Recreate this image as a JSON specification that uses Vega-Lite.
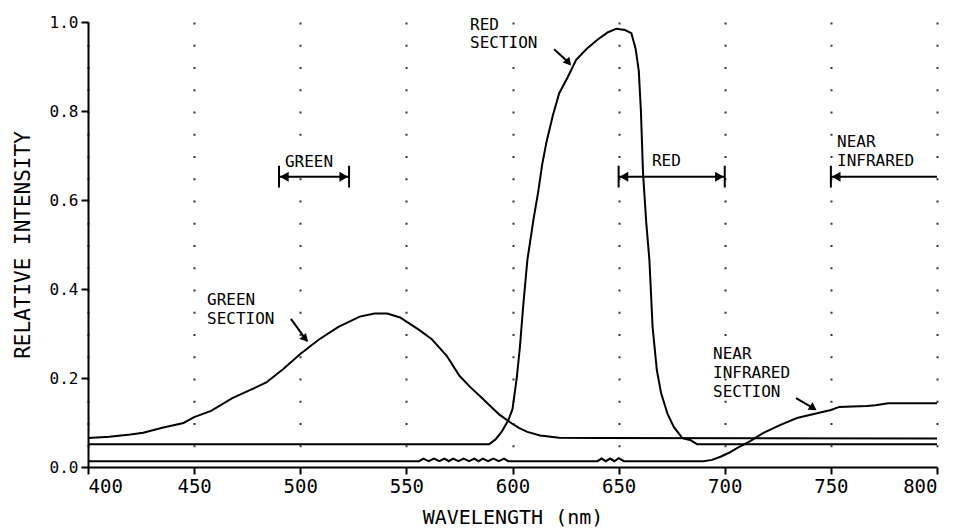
{
  "$schema": "https://vega.github.io/schema/vega-lite/v6.json",
  "width": 849,
  "height": 445,
  "autosize": {"type": "none"},
  "padding": {"left": 88, "top": 22, "right": 23, "bottom": 61},
  "background": "white",
  "config": {
    "view": {"stroke": null},
    "font": "DejaVu Sans Mono",
    "axis": {
      "domainColor": "black", "domainWidth": 2,
      "tickColor": "black", "tickWidth": 2, "tickSize": 7,
      "labelColor": "black", "labelFont": "DejaVu Sans Mono",
      "titleColor": "black", "titleFont": "DejaVu Sans Mono", "titleFontWeight": "normal"
    }
  },
  "datasets": {
    "curves": [
      {"series": "green", "wl": 400, "value": 0.065},
      {"series": "green", "wl": 410, "value": 0.068},
      {"series": "green", "wl": 420, "value": 0.073},
      {"series": "green", "wl": 426, "value": 0.077},
      {"series": "green", "wl": 435, "value": 0.088},
      {"series": "green", "wl": 445, "value": 0.099},
      {"series": "green", "wl": 450, "value": 0.112},
      {"series": "green", "wl": 458, "value": 0.126},
      {"series": "green", "wl": 468, "value": 0.155},
      {"series": "green", "wl": 476, "value": 0.172},
      {"series": "green", "wl": 484, "value": 0.19},
      {"series": "green", "wl": 492, "value": 0.22},
      {"series": "green", "wl": 500, "value": 0.254},
      {"series": "green", "wl": 509, "value": 0.287},
      {"series": "green", "wl": 518, "value": 0.315},
      {"series": "green", "wl": 528, "value": 0.338},
      {"series": "green", "wl": 535, "value": 0.345},
      {"series": "green", "wl": 541, "value": 0.345},
      {"series": "green", "wl": 547, "value": 0.336},
      {"series": "green", "wl": 556, "value": 0.308},
      {"series": "green", "wl": 562, "value": 0.287},
      {"series": "green", "wl": 569, "value": 0.25},
      {"series": "green", "wl": 575, "value": 0.205},
      {"series": "green", "wl": 580, "value": 0.18},
      {"series": "green", "wl": 585, "value": 0.158},
      {"series": "green", "wl": 590, "value": 0.135},
      {"series": "green", "wl": 594, "value": 0.117},
      {"series": "green", "wl": 599, "value": 0.1},
      {"series": "green", "wl": 603, "value": 0.088},
      {"series": "green", "wl": 607, "value": 0.079},
      {"series": "green", "wl": 613, "value": 0.071},
      {"series": "green", "wl": 622, "value": 0.066},
      {"series": "green", "wl": 640, "value": 0.065},
      {"series": "green", "wl": 800, "value": 0.064},
      {"series": "red", "wl": 400, "value": 0.051},
      {"series": "red", "wl": 589, "value": 0.051},
      {"series": "red", "wl": 592, "value": 0.062},
      {"series": "red", "wl": 595, "value": 0.08},
      {"series": "red", "wl": 598, "value": 0.105},
      {"series": "red", "wl": 600, "value": 0.13},
      {"series": "red", "wl": 602, "value": 0.2},
      {"series": "red", "wl": 603.5, "value": 0.27},
      {"series": "red", "wl": 605, "value": 0.36},
      {"series": "red", "wl": 607, "value": 0.465},
      {"series": "red", "wl": 610, "value": 0.56},
      {"series": "red", "wl": 612, "value": 0.615},
      {"series": "red", "wl": 614, "value": 0.68},
      {"series": "red", "wl": 616, "value": 0.73},
      {"series": "red", "wl": 619, "value": 0.79},
      {"series": "red", "wl": 622, "value": 0.84},
      {"series": "red", "wl": 626, "value": 0.876},
      {"series": "red", "wl": 630, "value": 0.915},
      {"series": "red", "wl": 635, "value": 0.94},
      {"series": "red", "wl": 640, "value": 0.96},
      {"series": "red", "wl": 645, "value": 0.977},
      {"series": "red", "wl": 649, "value": 0.985},
      {"series": "red", "wl": 653, "value": 0.982},
      {"series": "red", "wl": 656, "value": 0.975},
      {"series": "red", "wl": 658, "value": 0.94},
      {"series": "red", "wl": 659.5, "value": 0.89},
      {"series": "red", "wl": 660.5, "value": 0.8},
      {"series": "red", "wl": 661.5, "value": 0.66},
      {"series": "red", "wl": 663, "value": 0.55},
      {"series": "red", "wl": 664.5, "value": 0.465},
      {"series": "red", "wl": 666, "value": 0.315},
      {"series": "red", "wl": 668, "value": 0.218},
      {"series": "red", "wl": 670, "value": 0.166},
      {"series": "red", "wl": 673, "value": 0.12},
      {"series": "red", "wl": 676, "value": 0.09},
      {"series": "red", "wl": 680, "value": 0.065},
      {"series": "red", "wl": 684, "value": 0.06},
      {"series": "red", "wl": 687, "value": 0.051},
      {"series": "red", "wl": 800, "value": 0.051},
      {"series": "nir", "wl": 400, "value": 0.013},
      {"series": "nir", "wl": 556, "value": 0.013},
      {"series": "nir", "wl": 558, "value": 0.019},
      {"series": "nir", "wl": 560.5, "value": 0.013},
      {"series": "nir", "wl": 563, "value": 0.019},
      {"series": "nir", "wl": 565.5, "value": 0.013},
      {"series": "nir", "wl": 568, "value": 0.019},
      {"series": "nir", "wl": 570, "value": 0.013},
      {"series": "nir", "wl": 572, "value": 0.019},
      {"series": "nir", "wl": 574.5, "value": 0.013},
      {"series": "nir", "wl": 577, "value": 0.019},
      {"series": "nir", "wl": 579.5, "value": 0.013},
      {"series": "nir", "wl": 582, "value": 0.019},
      {"series": "nir", "wl": 584, "value": 0.013},
      {"series": "nir", "wl": 586, "value": 0.019},
      {"series": "nir", "wl": 588.5, "value": 0.013},
      {"series": "nir", "wl": 591, "value": 0.019},
      {"series": "nir", "wl": 593.5, "value": 0.013},
      {"series": "nir", "wl": 596, "value": 0.019},
      {"series": "nir", "wl": 598, "value": 0.013},
      {"series": "nir", "wl": 640, "value": 0.013},
      {"series": "nir", "wl": 642, "value": 0.019},
      {"series": "nir", "wl": 644, "value": 0.013},
      {"series": "nir", "wl": 646, "value": 0.019},
      {"series": "nir", "wl": 648, "value": 0.013},
      {"series": "nir", "wl": 650, "value": 0.02},
      {"series": "nir", "wl": 652.5, "value": 0.013},
      {"series": "nir", "wl": 690, "value": 0.013},
      {"series": "nir", "wl": 694, "value": 0.016},
      {"series": "nir", "wl": 698, "value": 0.023},
      {"series": "nir", "wl": 702, "value": 0.032},
      {"series": "nir", "wl": 706, "value": 0.043},
      {"series": "nir", "wl": 712, "value": 0.058},
      {"series": "nir", "wl": 718, "value": 0.076},
      {"series": "nir", "wl": 726, "value": 0.094},
      {"series": "nir", "wl": 734, "value": 0.11},
      {"series": "nir", "wl": 742, "value": 0.119},
      {"series": "nir", "wl": 750, "value": 0.128},
      {"series": "nir", "wl": 754, "value": 0.135},
      {"series": "nir", "wl": 760, "value": 0.136},
      {"series": "nir", "wl": 767, "value": 0.137},
      {"series": "nir", "wl": 771, "value": 0.139},
      {"series": "nir", "wl": 777, "value": 0.143},
      {"series": "nir", "wl": 800, "value": 0.143}
    ],
    "ranges": [
      {"name": "GREEN", "wl": 490, "wl2": 523, "value": 0.652},
      {"name": "RED", "wl": 650, "wl2": 700, "value": 0.652},
      {"name": "NIR", "wl": 750, "wl2": 800, "value": 0.652}
    ],
    "bars": [
      {"wl": 490, "lo": 0.628, "hi": 0.677},
      {"wl": 523, "lo": 0.628, "hi": 0.677},
      {"wl": 650, "lo": 0.628, "hi": 0.677},
      {"wl": 700, "lo": 0.628, "hi": 0.677},
      {"wl": 750, "lo": 0.628, "hi": 0.677}
    ],
    "heads": [
      {"dir": "left", "wl": 492.5, "value": 0.652},
      {"dir": "right", "wl": 520.5, "value": 0.652},
      {"dir": "left", "wl": 652.5, "value": 0.652},
      {"dir": "right", "wl": 697.5, "value": 0.652},
      {"dir": "left", "wl": 752.5, "value": 0.652}
    ],
    "pointers": [
      {"name": "g", "wl": 495.6, "value": 0.333, "wl2": 503.2, "value2": 0.283, "hx": 502, "hy": 0.29},
      {"name": "r", "wl": 619.6, "value": 0.939, "wl2": 627.1, "value2": 0.906, "hx": 626, "hy": 0.911},
      {"name": "n", "wl": 733.6, "value": 0.155, "wl2": 742.5, "value2": 0.13, "hx": 741.2, "hy": 0.134}
    ],
    "labels": [
      {"text": "GREEN", "wl": 492.8, "value": 0.675},
      {"text": "RED", "wl": 665.7, "value": 0.677},
      {"text": "NEAR\nINFRARED", "wl": 752.9, "value": 0.718},
      {"text": "GREEN\nSECTION", "wl": 456.1, "value": 0.363},
      {"text": "RED\nSECTION", "wl": 580, "value": 0.983},
      {"text": "NEAR\nINFRARED\nSECTION", "wl": 694.5, "value": 0.242}
    ]
  },
  "layer": [
    {
      "data": {"name": "curves"},
      "mark": {"type": "line", "color": "black", "strokeWidth": 2},
      "encoding": {
        "x": {
          "field": "wl", "type": "quantitative",
          "scale": {"domain": [400, 800], "nice": false, "zero": false},
          "axis": {
            "title": "WAVELENGTH (nm)", "values": [400, 450, 500, 550, 600, 650, 700, 750, 800],
            "labelFontSize": 19, "titleFontSize": 20, "labelPadding": 3, "titlePadding": 11,
            "grid": true, "gridColor": "black", "gridWidth": 2, "gridDash": [2, 20.25], "gridOpacity": 0.8
          }
        },
        "y": {
          "field": "value", "type": "quantitative",
          "scale": {"domain": [0, 1], "nice": false},
          "axis": {
            "title": "RELATIVE INTENSITY", "values": [0, 0.2, 0.4, 0.6, 0.8, 1.0], "format": ".1f",
            "labelFontSize": 16, "titleFontSize": 21, "labelPadding": 3, "titlePadding": 16, "grid": false
          }
        },
        "detail": {"field": "series"}
      }
    },
    {
      "data": {"name": "ranges"},
      "mark": {"type": "rule", "color": "black", "strokeWidth": 2},
      "encoding": {
        "x": {"field": "wl", "type": "quantitative"},
        "x2": {"field": "wl2"},
        "y": {"field": "value", "type": "quantitative"}
      }
    },
    {
      "data": {"name": "bars"},
      "mark": {"type": "rule", "color": "black", "strokeWidth": 2},
      "encoding": {
        "x": {"field": "wl", "type": "quantitative"},
        "y": {"field": "lo", "type": "quantitative"},
        "y2": {"field": "hi"}
      }
    },
    {
      "data": {"name": "heads"},
      "transform": [{"filter": "datum.dir === 'left'"}],
      "mark": {"type": "point", "shape": "triangle-left", "filled": true, "color": "black", "size": 100, "opacity": 1},
      "encoding": {
        "x": {"field": "wl", "type": "quantitative"},
        "y": {"field": "value", "type": "quantitative"}
      }
    },
    {
      "data": {"name": "heads"},
      "transform": [{"filter": "datum.dir === 'right'"}],
      "mark": {"type": "point", "shape": "triangle-right", "filled": true, "color": "black", "size": 100, "opacity": 1},
      "encoding": {
        "x": {"field": "wl", "type": "quantitative"},
        "y": {"field": "value", "type": "quantitative"}
      }
    },
    {
      "data": {"name": "pointers"},
      "mark": {"type": "rule", "color": "black", "strokeWidth": 2},
      "encoding": {
        "x": {"field": "wl", "type": "quantitative"},
        "x2": {"field": "wl2"},
        "y": {"field": "value", "type": "quantitative"},
        "y2": {"field": "value2"}
      }
    },
    {
      "data": {"name": "pointers"},
      "transform": [{"filter": "datum.name === 'g'"}],
      "mark": {"type": "point", "shape": "triangle", "angle": 137, "filled": true, "color": "black", "size": 80, "opacity": 1},
      "encoding": {
        "x": {"field": "hx", "type": "quantitative"},
        "y": {"field": "hy", "type": "quantitative"}
      }
    },
    {
      "data": {"name": "pointers"},
      "transform": [{"filter": "datum.name === 'r'"}],
      "mark": {"type": "point", "shape": "triangle", "angle": 139, "filled": true, "color": "black", "size": 80, "opacity": 1},
      "encoding": {
        "x": {"field": "hx", "type": "quantitative"},
        "y": {"field": "hy", "type": "quantitative"}
      }
    },
    {
      "data": {"name": "pointers"},
      "transform": [{"filter": "datum.name === 'n'"}],
      "mark": {"type": "point", "shape": "triangle", "angle": 124, "filled": true, "color": "black", "size": 80, "opacity": 1},
      "encoding": {
        "x": {"field": "hx", "type": "quantitative"},
        "y": {"field": "hy", "type": "quantitative"}
      }
    },
    {
      "data": {"name": "labels"},
      "mark": {"type": "text", "align": "left", "baseline": "alphabetic", "font": "DejaVu Sans Mono", "fontSize": 16, "lineBreak": "\n", "lineHeight": 18.7, "color": "black"},
      "encoding": {
        "x": {"field": "wl", "type": "quantitative"},
        "y": {"field": "value", "type": "quantitative"},
        "text": {"field": "text"}
      }
    }
  ]
}
